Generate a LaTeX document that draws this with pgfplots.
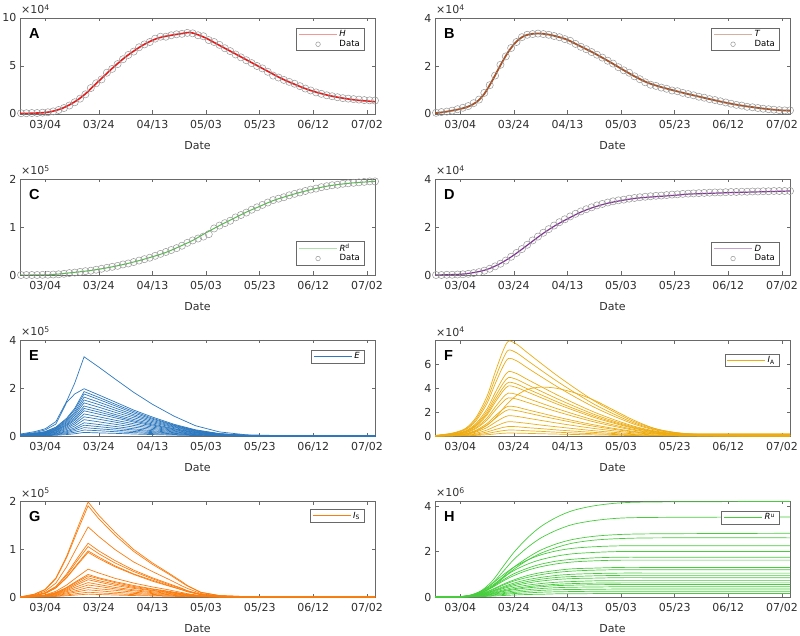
\documentclass[border=0pt]{standalone}
\usepackage{pgfplots}
\pgfplotsset{compat=1.18}
\usepackage{pgfplotstable}
\usepackage{fontspec}
\setmainfont{DejaVu Sans}
\newfontfamily\letterfont{Liberation Sans}
\definecolor{colA}{RGB}{232,25,25}
\definecolor{colB}{RGB}{165,82,40}
\definecolor{colC}{RGB}{80,190,70}
\definecolor{colD}{RGB}{130,50,150}
\definecolor{colE}{RGB}{45,120,190}
\definecolor{colF}{RGB}{236,172,20}
\definecolor{colG}{RGB}{250,125,15}
\definecolor{colH}{RGB}{70,205,60}
\definecolor{axgray}{RGB}{105,105,105}
\definecolor{mkgray}{RGB}{150,150,150}

\pgfplotstableread{
d c1 c2 c3 c4 c5 c6 c7 c8 c9 c10 c11 c12 c13 c14 c15 c16 c17 c18
-9.4 0.08 0.06 0.056 0.053 0.049 0.045 0.041 0.038 0.035 0.032 0.028 0.024 0.02 0.017 0.014 0.011 0.008 0.005
-4 0.18 0.14 0.11 0.105 0.097 0.09 0.083 0.075 0.069 0.063 0.055 0.048 0.041 0.033 0.027 0.021 0.015 0.009
0 0.3 0.25 0.185 0.175 0.162 0.15 0.138 0.125 0.115 0.105 0.092 0.08 0.068 0.055 0.045 0.035 0.025 0.015
4 0.6 0.5 0.37 0.35 0.32 0.3 0.28 0.25 0.23 0.21 0.18 0.16 0.14 0.11 0.09 0.07 0.05 0.03
8 1.45 1.4 0.74 0.7 0.65 0.6 0.55 0.5 0.46 0.42 0.37 0.32 0.27 0.22 0.18 0.14 0.1 0.06
11 2.2 1.75 1.15 1.09 1.0 0.93 0.86 0.78 0.71 0.65 0.57 0.5 0.42 0.34 0.28 0.22 0.155 0.093
14.5 3.3 1.97 1.85 1.75 1.62 1.5 1.38 1.25 1.15 1.05 0.92 0.8 0.68 0.55 0.45 0.35 0.25 0.15
20 2.87 1.71 1.61 1.52 1.41 1.31 1.2 1.09 1.0 0.91 0.8 0.7 0.59 0.48 0.39 0.3 0.22 0.13
26 2.38 1.42 1.33 1.26 1.17 1.08 0.99 0.9 0.83 0.76 0.66 0.58 0.49 0.4 0.32 0.25 0.18 0.11
33 1.82 1.08 1.02 0.96 0.89 0.83 0.76 0.69 0.63 0.58 0.51 0.44 0.37 0.3 0.25 0.19 0.14 0.083
40 1.32 0.79 0.74 0.7 0.65 0.6 0.55 0.5 0.46 0.42 0.37 0.32 0.27 0.22 0.18 0.14 0.1 0.06
48 0.83 0.49 0.46 0.44 0.41 0.38 0.35 0.31 0.29 0.26 0.23 0.2 0.17 0.14 0.11 0.088 0.063 0.038
56 0.43 0.26 0.24 0.23 0.21 0.2 0.18 0.16 0.15 0.14 0.12 0.1 0.088 0.072 0.059 0.046 0.033 0.02
65 0.17 0.1 0.09 0.088 0.081 0.075 0.069 0.063 0.058 0.053 0.046 0.04 0.034 0.028 0.023 0.018 0.013 0.008
75 0.05 0.03 0.028 0.026 0.024 0.023 0.021 0.019 0.017 0.016 0.014 0.012 0.01 0.008 0.007 0.005 0.004 0.002
90 0.01 0.006 0.006 0.005 0.005 0.005 0.004 0.004 0.003 0.003 0.003 0.002 0.002 0.002 0.001 0.001 0.001 0
123 0 0 0 0 0 0 0 0 0 0 0 0 0 0 0 0 0 0
}\tabE

\pgfplotstableread{
d c1 c2 c3 c4 c5 c6 c7 c8 c9 c10 c11 c12 c13 c14 c15 c16 c17
-9.4 0.04 0.036 0.033 0.027 0.025 0.023 0.021 0.018 0.016 0.013 0.011 0.009 0.006 0.004 0.003 0.001 0.01
-3 0.24 0.22 0.2 0.16 0.15 0.14 0.13 0.11 0.1 0.075 0.066 0.051 0.036 0.024 0.015 0.008 0.05
2 0.64 0.58 0.52 0.43 0.39 0.36 0.34 0.29 0.26 0.2 0.18 0.14 0.096 0.064 0.04 0.02 0.15
6 1.59 1.44 1.3 1.08 0.98 0.9 0.84 0.72 0.64 0.5 0.44 0.34 0.24 0.16 0.1 0.05 0.4
10 3.34 3.02 2.73 2.27 2.06 1.89 1.76 1.51 1.34 1.05 0.92 0.71 0.5 0.34 0.21 0.105 0.9
13 5.33 4.82 4.36 3.62 3.28 3.02 2.81 2.41 2.14 1.68 1.47 1.14 0.8 0.54 0.34 0.17 1.5
16 7.16 6.48 5.85 4.86 4.41 4.05 3.78 3.24 2.88 2.25 1.98 1.53 1.08 0.72 0.45 0.23 2.3
18 7.95 7.2 6.5 5.4 4.9 4.5 4.2 3.6 3.2 2.5 2.2 1.7 1.2 0.8 0.5 0.25 2.8
21 7.71 6.98 6.31 5.24 4.75 4.37 4.07 3.49 3.1 2.43 2.13 1.65 1.16 0.78 0.49 0.24 3.4
25 7.0 6.34 5.72 4.75 4.31 3.96 3.7 3.17 2.82 2.2 1.94 1.5 1.06 0.7 0.44 0.22 3.9
30 6.12 5.54 5.0 4.16 3.77 3.47 3.23 2.77 2.46 1.93 1.69 1.31 0.92 0.62 0.39 0.19 4.1
36 5.09 4.61 4.16 3.46 3.14 2.88 2.69 2.3 2.05 1.6 1.41 1.09 0.77 0.51 0.32 0.16 4.0
43 3.98 3.6 3.25 2.7 2.45 2.25 2.1 1.8 1.6 1.25 1.1 0.85 0.6 0.4 0.25 0.125 3.6
50 2.94 2.66 2.41 2.0 1.81 1.67 1.55 1.33 1.18 0.93 0.81 0.63 0.44 0.3 0.19 0.093 3.0
57 2.07 1.87 1.69 1.4 1.27 1.17 1.09 0.94 0.83 0.65 0.57 0.44 0.31 0.21 0.13 0.065 2.2
65 1.19 1.08 0.98 0.81 0.74 0.68 0.63 0.54 0.48 0.38 0.33 0.26 0.18 0.12 0.075 0.038 1.3
73 0.6 0.54 0.49 0.41 0.37 0.34 0.32 0.27 0.24 0.22 0.17 0.16 0.09 0.06 0.038 0.019 0.6
82 0.24 0.22 0.2 0.16 0.15 0.14 0.13 0.11 0.1 0.2 0.066 0.13 0.036 0.024 0.015 0.008 0.25
95 0.08 0.07 0.065 0.054 0.049 0.045 0.042 0.036 0.032 0.2 0.022 0.12 0.012 0.008 0.005 0.003 0.08
123 0.02 0.02 0.02 0.016 0.015 0.014 0.013 0.011 0.01 0.2 0.007 0.12 0.004 0.002 0.002 0.001 0.02
}\tabF

\pgfplotstableread{
d c1 c2 c3 c4 c5 c6 c7 c8 c9 c10 c11 c12 c13 c14 c15 c16 c17 c18
-9.4 0 0 0 0 0 0 0 0 0 0 0 0 0 0 0 0 0 0
-4 0.06 0.057 0.044 0.034 0.032 0.029 0.028 0.017 0.014 0.013 0.012 0.011 0.009 0.008 0.006 0.005 0.003 0.002
0 0.16 0.15 0.12 0.09 0.084 0.077 0.074 0.046 0.038 0.035 0.032 0.029 0.024 0.02 0.016 0.012 0.008 0.005
4 0.4 0.38 0.29 0.22 0.21 0.19 0.19 0.12 0.094 0.088 0.08 0.072 0.06 0.05 0.04 0.03 0.02 0.012
8 0.85 0.82 0.63 0.48 0.45 0.41 0.4 0.25 0.2 0.19 0.17 0.15 0.13 0.11 0.086 0.065 0.043 0.026
12 1.43 1.37 1.05 0.81 0.76 0.69 0.67 0.42 0.34 0.32 0.29 0.26 0.22 0.18 0.14 0.11 0.072 0.043
16 1.98 1.9 1.46 1.12 1.05 0.96 0.93 0.58 0.47 0.44 0.4 0.36 0.3 0.25 0.2 0.15 0.1 0.06
20 1.7 1.63 1.26 0.96 0.9 0.83 0.8 0.5 0.4 0.38 0.34 0.31 0.26 0.22 0.17 0.13 0.086 0.052
26 1.35 1.29 0.99 0.76 0.71 0.65 0.63 0.39 0.32 0.3 0.27 0.24 0.2 0.17 0.14 0.1 0.068 0.041
33 0.99 0.95 0.73 0.56 0.53 0.48 0.47 0.29 0.24 0.22 0.2 0.18 0.15 0.13 0.1 0.075 0.05 0.03
40 0.71 0.68 0.53 0.4 0.38 0.35 0.33 0.21 0.17 0.16 0.14 0.13 0.11 0.09 0.072 0.054 0.036 0.022
46 0.5 0.48 0.37 0.28 0.26 0.24 0.23 0.15 0.12 0.11 0.1 0.09 0.075 0.063 0.05 0.038 0.025 0.015
51 0.32 0.3 0.23 0.18 0.17 0.15 0.15 0.093 0.075 0.07 0.064 0.058 0.048 0.04 0.032 0.024 0.016 0.01
53 0.24 0.23 0.18 0.13 0.13 0.12 0.11 0.07 0.056 0.053 0.048 0.043 0.036 0.03 0.024 0.018 0.012 0.007
58 0.1 0.095 0.073 0.056 0.053 0.048 0.047 0.029 0.024 0.022 0.02 0.018 0.015 0.013 0.01 0.008 0.005 0.003
65 0.03 0.029 0.022 0.017 0.016 0.014 0.014 0.009 0.007 0.007 0.006 0.005 0.005 0.004 0.003 0.002 0.002 0.001
75 0.008 0.008 0.006 0.004 0.004 0.004 0.004 0.002 0.002 0.002 0.002 0.001 0.001 0.001 0.001 0.001 0 0
90 0.002 0.002 0.001 0.001 0.001 0.001 0.001 0 0 0 0 0 0 0 0 0 0 0
123 0 0 0 0 0 0 0 0 0 0 0 0 0 0 0 0 0 0
}\tabG

\pgfplotstableread{
d c1 c2 c3 c4 c5 c6 c7 c8 c9 c10 c11 c12 c13 c14 c15 c16 c17 c18 c19 c20
-9.4 0 0 0 0 0 0 0 0 0 0 0 0 0 0 0 0 0 0 0 0
-3 0.004 0.004 0.003 0.003 0.005 0.004 0.004 0.003 0.003 0.002 0.002 0.002 0.002 0.001 0.001 0.001 0.001 0.001 0 0
0 0.017 0.014 0.011 0.01 0.018 0.016 0.014 0.013 0.01 0.01 0.008 0.008 0.007 0.006 0.005 0.004 0.004 0.003 0.002 0.001
4 0.084 0.07 0.056 0.052 0.09 0.08 0.07 0.065 0.052 0.048 0.042 0.038 0.034 0.029 0.025 0.022 0.018 0.014 0.01 0.006
8 0.29 0.25 0.19 0.18 0.27 0.24 0.21 0.19 0.16 0.14 0.13 0.11 0.1 0.086 0.074 0.066 0.054 0.042 0.03 0.018
12 0.71 0.6 0.47 0.44 0.59 0.52 0.46 0.42 0.34 0.31 0.27 0.25 0.22 0.19 0.16 0.14 0.12 0.091 0.065 0.039
16 1.34 1.12 0.89 0.83 0.97 0.86 0.75 0.7 0.56 0.52 0.45 0.41 0.37 0.31 0.27 0.24 0.19 0.15 0.11 0.065
20 1.96 1.65 1.31 1.22 1.31 1.16 1.02 0.94 0.75 0.7 0.61 0.55 0.49 0.42 0.36 0.32 0.26 0.2 0.15 0.087
25 2.59 2.17 1.72 1.61 1.62 1.44 1.26 1.17 0.94 0.86 0.76 0.68 0.61 0.52 0.45 0.4 0.32 0.25 0.18 0.11
30 3.09 2.59 2.06 1.92 1.85 1.64 1.44 1.33 1.07 0.98 0.86 0.78 0.7 0.59 0.51 0.45 0.37 0.29 0.21 0.12
36 3.51 2.94 2.34 2.18 2.03 1.8 1.58 1.46 1.17 1.08 0.95 0.86 0.77 0.65 0.56 0.5 0.41 0.32 0.23 0.14
42 3.8 3.19 2.53 2.37 2.14 1.9 1.66 1.54 1.24 1.14 1.0 0.9 0.81 0.68 0.59 0.52 0.43 0.33 0.24 0.14
50 4.01 3.36 2.67 2.5 2.21 1.96 1.72 1.59 1.27 1.18 1.03 0.93 0.83 0.71 0.61 0.54 0.44 0.34 0.25 0.15
60 4.14 3.47 2.75 2.57 2.25 2.0 1.75 1.62 1.3 1.2 1.05 0.95 0.85 0.72 0.62 0.55 0.45 0.35 0.25 0.15
75 4.18 3.5 2.78 2.6 2.25 2.0 1.75 1.62 1.3 1.2 1.05 0.95 0.85 0.72 0.62 0.55 0.45 0.35 0.25 0.15
123 4.2 3.52 2.8 2.6 2.25 2.0 1.75 1.62 1.3 1.2 1.05 0.95 0.85 0.72 0.62 0.55 0.45 0.35 0.25 0.15
}\tabH

\pgfplotsset{
  panel/.style={
    scale only axis, width=355pt, height=96pt,
    xmin=-9.4, xmax=123, ymin=0,
    xtick={0,20,40,60,80,100,120},
    xticklabels={03/04,03/24,04/13,05/03,05/23,06/12,07/02},
    xlabel={Date},
    scaled y ticks=false,
    tick align=inside, tick pos=both,
    major tick length=3.5pt,
    axis line style={draw=axgray},
    every tick/.style={draw=axgray, line width=0.5pt},
    every tick label/.append style={font=\fontsize{11}{13}\selectfont, text=black!82},
    xticklabel style={yshift=-3pt},
    every axis label/.append style={font=\fontsize{11}{13}\selectfont, text=black!82},
    xlabel style={yshift=-5pt},
    /pgf/number format/assume math mode=true,
    legend cell align=left,
    legend style={font=\fontsize{8.5}{10}\selectfont, draw=axgray, fill=white,
      inner xsep=2pt, inner ysep=0.5pt, row sep=-2pt,
      /tikz/every even column/.append style={column sep=1pt}},
  },
  fitline/.style={legend image code/.code={\draw[##1, draw=#1, line width=0.9pt, opacity=0.45] (0pt,0pt) -- (38pt,0pt);}},
  ensline/.style={line width=0.7pt, legend image code/.code={\draw[draw=#1, line width=1pt] (0pt,0pt) -- (38pt,0pt);}},
  datamark/.style={only marks, mark=o, mark size=3.6pt, color=mkgray, mark options={draw=mkgray, line width=0.5pt},
     legend image code/.code={\draw[##1, mark size=2.3pt] plot coordinates {(19pt,0pt)};}},
  lbl/.style 2 args={extra description/.code={
     \node[anchor=north west, inner sep=0pt, font=\letterfont\bfseries\fontsize{14.5}{15}\selectfont] at (0,1) [xshift=9pt, yshift=-10pt] {#1};
     \node[anchor=base west, inner sep=0pt, text=black!80, font=\fontsize{11}{12}\selectfont] at (0,1) [xshift=1pt, yshift=4pt] {×10\textsuperscript{#2}};
  }},
}

\begin{document}
\begin{tikzpicture}
\path[use as bounding box] (0,0) rectangle (800pt,635pt);

% ---------------- A ----------------
\begin{axis}[panel, at={(20pt,521pt)}, anchor=south west, ymax=10, ytick={0,5,10}, lbl={A}{4},
  legend style={at={(0.969,0.896)}, anchor=north east}, reverse legend]
\addplot[datamark] coordinates {(-9,0.08)(-7,0.08)(-5,0.1)(-3,0.1)(-1,0.14)(1,0.18)(3,0.27)(5,0.42)(7,0.62)(9,0.88)(11,1.22)(13,1.6)(15,2.05)(17,2.7)(19,3.2)(21,3.6)(23,4.3)(25,4.7)(27,5.2)(29,5.7)(31,6.15)(33,6.5)(35,6.95)(37,7.25)(39,7.5)(41,7.85)(43,8.05)(45,8.05)(47,8.2)(49,8.3)(51,8.35)(53,8.45)(55,8.4)(57,8.2)(59,8.1)(61,7.7)(63,7.5)(65,7.2)(67,6.85)(69,6.55)(71,6.2)(73,5.9)(75,5.6)(77,5.3)(79,5.0)(81,4.75)(83,4.4)(85,4.0)(87,3.8)(89,3.55)(91,3.35)(93,3.15)(95,2.9)(97,2.65)(99,2.45)(101,2.25)(103,2.1)(105,1.95)(107,1.85)(109,1.75)(111,1.65)(113,1.6)(115,1.55)(117,1.5)(119,1.45)(121,1.42)(123,1.4)};
\addlegendentry{Data}
\addplot[colA, line width=1.6pt, smooth, fitline=colA] coordinates {(-9.4,0.05)(-5,0.08)(0,0.15)(3,0.3)(6,0.55)(9,0.95)(12,1.45)(15,2.1)(18,2.9)(21,3.7)(24,4.5)(27,5.25)(30,5.95)(33,6.55)(36,7.1)(39,7.55)(42,7.9)(45,8.1)(48,8.25)(51,8.38)(54,8.5)(57,8.25)(60,7.9)(63,7.45)(66,7.0)(69,6.55)(72,6.1)(75,5.65)(78,5.2)(81,4.75)(84,4.3)(87,3.85)(90,3.45)(93,3.1)(96,2.75)(99,2.45)(102,2.2)(105,1.98)(108,1.8)(111,1.65)(114,1.52)(117,1.42)(120,1.35)(123,1.28)};
\addlegendentry{\textit{H}}
\end{axis}

% ---------------- B ----------------
\begin{axis}[panel, at={(435pt,521pt)}, anchor=south west, ymax=4, ytick={0,2,4}, lbl={B}{4},
  legend style={at={(0.969,0.896)}, anchor=north east}, reverse legend]
\addplot[datamark] coordinates {(-9,0.05)(-7,0.08)(-5,0.1)(-3,0.14)(-1,0.2)(1,0.26)(3,0.33)(5,0.45)(7,0.6)(9,0.88)(11,1.2)(13,1.6)(15,2.05)(17,2.4)(19,2.75)(21,3.0)(23,3.2)(25,3.3)(27,3.33)(29,3.35)(31,3.33)(33,3.3)(35,3.25)(37,3.2)(39,3.12)(41,3.05)(43,2.92)(45,2.8)(47,2.7)(49,2.58)(51,2.47)(53,2.35)(55,2.22)(57,2.1)(59,1.95)(61,1.82)(63,1.72)(65,1.57)(67,1.45)(69,1.32)(71,1.22)(73,1.17)(75,1.1)(77,1.05)(79,0.98)(81,0.95)(83,0.88)(85,0.83)(87,0.78)(89,0.72)(91,0.68)(93,0.62)(95,0.58)(97,0.53)(99,0.48)(101,0.43)(103,0.38)(105,0.35)(107,0.3)(109,0.28)(111,0.25)(113,0.22)(115,0.2)(117,0.18)(119,0.16)(121,0.15)(123,0.15)};
\addlegendentry{Data}
\addplot[colB, line width=1.8pt, smooth, fitline=colB] coordinates {(-9.4,0.03)(-5,0.1)(0,0.21)(3,0.31)(6,0.49)(9,0.84)(12,1.4)(15,2.03)(18,2.6)(21,3.02)(24,3.26)(27,3.34)(30,3.35)(33,3.31)(36,3.23)(40,3.09)(45,2.81)(50,2.53)(55,2.22)(60,1.89)(65,1.57)(70,1.3)(75,1.12)(80,0.97)(85,0.83)(90,0.7)(95,0.57)(100,0.45)(105,0.35)(110,0.27)(115,0.2)(120,0.15)(123,0.14)};
\addlegendentry{\textit{T}}
\end{axis}

% ---------------- C ----------------
\begin{axis}[panel, at={(20pt,360pt)}, anchor=south west, ymax=2, ytick={0,1,2}, lbl={C}{5},
  legend style={at={(0.969,0.103)}, anchor=south east}, reverse legend]
\addplot[datamark] coordinates {(-9,0)(-7,0)(-5,0)(-3,0)(-1,0.003)(1,0.005)(3,0.01)(5,0.015)(7,0.025)(9,0.04)(11,0.05)(13,0.065)(15,0.08)(17,0.09)(19,0.11)(21,0.13)(23,0.15)(25,0.17)(27,0.19)(29,0.22)(31,0.24)(33,0.27)(35,0.3)(37,0.33)(39,0.36)(41,0.4)(43,0.44)(45,0.48)(47,0.52)(49,0.56)(51,0.61)(53,0.67)(55,0.72)(57,0.76)(59,0.8)(61,0.85)(63,0.97)(65,1.03)(67,1.08)(69,1.13)(71,1.2)(73,1.25)(75,1.3)(77,1.36)(79,1.41)(81,1.46)(83,1.51)(85,1.56)(87,1.59)(89,1.62)(91,1.66)(93,1.69)(95,1.72)(97,1.75)(99,1.78)(101,1.8)(103,1.83)(105,1.85)(107,1.87)(109,1.88)(111,1.9)(113,1.91)(115,1.92)(117,1.93)(119,1.94)(121,1.95)(123,1.95)};
\addlegendentry{Data}
\addplot[colC, line width=1pt, smooth, fitline=colC] coordinates {(-9.4,0)(0,0.002)(5,0.02)(10,0.05)(15,0.08)(20,0.12)(25,0.17)(30,0.23)(35,0.3)(40,0.38)(45,0.47)(50,0.59)(55,0.72)(60,0.88)(65,1.03)(70,1.17)(75,1.31)(80,1.43)(85,1.55)(90,1.64)(95,1.72)(100,1.79)(105,1.85)(110,1.89)(115,1.92)(120,1.94)(123,1.95)};
\addlegendentry{\textit{R}\textsuperscript{d}}
\end{axis}

% ---------------- D ----------------
\begin{axis}[panel, at={(435pt,360pt)}, anchor=south west, ymax=4, ytick={0,2,4}, lbl={D}{4},
  legend style={at={(0.969,0.103)}, anchor=south east}, reverse legend]
\addplot[datamark] coordinates {(-9,0)(-7,0)(-5,0.01)(-3,0.01)(-1,0.02)(1,0.03)(3,0.05)(5,0.08)(7,0.12)(9,0.18)(11,0.26)(13,0.36)(15,0.47)(17,0.6)(19,0.76)(21,0.92)(23,1.08)(25,1.26)(27,1.44)(29,1.6)(31,1.76)(33,1.91)(35,2.06)(37,2.2)(39,2.32)(41,2.44)(43,2.55)(45,2.65)(47,2.74)(49,2.82)(51,2.9)(53,2.96)(55,3.02)(57,3.07)(59,3.11)(61,3.14)(63,3.18)(65,3.21)(67,3.24)(69,3.26)(71,3.28)(73,3.3)(75,3.31)(77,3.33)(79,3.35)(81,3.36)(83,3.38)(85,3.39)(87,3.4)(89,3.41)(91,3.42)(93,3.43)(95,3.44)(97,3.44)(99,3.45)(101,3.46)(103,3.46)(105,3.47)(107,3.47)(109,3.48)(111,3.48)(113,3.49)(115,3.49)(117,3.5)(119,3.5)(121,3.5)(123,3.5)};
\addlegendentry{Data}
\addplot[colD, line width=1.2pt, smooth, fitline=colD] coordinates {(-9.4,0)(0,0.03)(5,0.1)(10,0.23)(15,0.48)(20,0.83)(25,1.24)(30,1.66)(35,2.03)(40,2.34)(45,2.62)(50,2.83)(55,2.99)(60,3.1)(65,3.19)(70,3.24)(75,3.28)(80,3.32)(85,3.37)(90,3.39)(100,3.43)(110,3.46)(120,3.49)(123,3.5)};
\addlegendentry{\textit{D}}
\end{axis}

% ---------------- E ----------------
\begin{axis}[panel, at={(20pt,199pt)}, anchor=south west, ymax=4, ytick={0,2,4}, lbl={E}{5},
  legend style={at={(0.969,0.896)}, anchor=north east}]
\addplot[colE, ensline=colE] table[x=d, y=c1] {\tabE};
\addlegendentry{\textit{E}}
\pgfplotsinvokeforeach{2,...,18}{\addplot[colE, ensline=colE, forget plot] table[x=d, y=c#1] {\tabE};}
\end{axis}

% ---------------- F ----------------
\begin{axis}[panel, at={(435pt,199pt)}, anchor=south west, ymax=8.05, ytick={0,2,4,6}, lbl={F}{4},
  legend style={at={(0.969,0.858)}, anchor=north east}]
\addplot[colF, ensline=colF, smooth] table[x=d, y=c1] {\tabF};
\addlegendentry{\textit{I}\textsubscript{A}}
\pgfplotsinvokeforeach{2,...,17}{\addplot[colF, ensline=colF, smooth, forget plot] table[x=d, y=c#1] {\tabF};}
\end{axis}

% ---------------- G ----------------
\begin{axis}[panel, at={(20pt,38pt)}, anchor=south west, ymax=2, ytick={0,1,2}, lbl={G}{5},
  legend style={at={(0.969,0.915)}, anchor=north east}]
\addplot[colG, ensline=colG] table[x=d, y=c1] {\tabG};
\addlegendentry{\textit{I}\textsubscript{S}}
\pgfplotsinvokeforeach{2,...,18}{\addplot[colG, ensline=colG, forget plot] table[x=d, y=c#1] {\tabG};}
\end{axis}

% ---------------- H ----------------
\begin{axis}[panel, at={(435pt,38pt)}, anchor=south west, ymax=4.22, ytick={0,2,4}, lbl={H}{6},
  legend style={at={(0.969,0.896)}, anchor=north east}]
\addplot[colH, ensline=colH, smooth] table[x=d, y=c1] {\tabH};
\addlegendentry{\textit{R}\textsuperscript{u}}
\pgfplotsinvokeforeach{2,...,20}{\addplot[colH, ensline=colH, smooth, forget plot] table[x=d, y=c#1] {\tabH};}
\end{axis}
\end{tikzpicture}
\end{document}
